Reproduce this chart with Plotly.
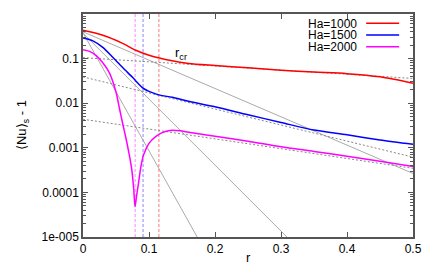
import plotly.graph_objects as go

# ---- data ----
r_red = [0, 0.03, 0.06, 0.08, 0.1, 0.135, 0.16, 0.2, 0.25, 0.3, 0.35, 0.4, 0.45, 0.5]
v_red = [0.43, 0.333, 0.22, 0.154, 0.119, 0.089, 0.078, 0.07, 0.062, 0.055, 0.050, 0.046, 0.039, 0.028]

r_blue = [0, 0.015, 0.03, 0.045, 0.06, 0.075, 0.08, 0.085, 0.09, 0.095, 0.1, 0.11, 0.12, 0.135,
          0.16, 0.2, 0.25, 0.3, 0.35, 0.4, 0.45, 0.5]
v_blue = [0.29, 0.25, 0.178, 0.107, 0.063, 0.038, 0.0316, 0.0263, 0.0224, 0.02, 0.0184, 0.0162,
          0.0148, 0.0136, 0.011, 0.0083, 0.0055, 0.0037, 0.0025, 0.00195, 0.0015, 0.0012]

r_mag = [0, 0.01, 0.02, 0.03, 0.04, 0.05, 0.055, 0.06, 0.065, 0.07, 0.074, 0.077, 0.0788,
         0.081, 0.084, 0.088, 0.092, 0.1, 0.11, 0.12, 0.132, 0.147, 0.16, 0.2, 0.25, 0.3, 0.35,
         0.4, 0.45, 0.5]
v_mag = [0.158, 0.145, 0.117, 0.081, 0.048, 0.0178, 0.0079, 0.00355, 0.00166, 0.00071, 0.000316,
         0.000112, 0.000048, 0.000079, 0.000158, 0.000398, 0.000708, 0.00126, 0.00178, 0.00219,
         0.00245, 0.0024, 0.00224, 0.00182, 0.00141, 0.00105, 0.00083, 0.00065, 0.0005, 0.00038]

# fitted straight lines (endpoints)
fitA_r, fitA_v = [0, 0.5], [0.398, 0.000266]
fitB_r, fitB_v = [0, 0.309], [0.372, 1e-5]
fitC_r, fitC_v = [0, 0.173], [0.38, 1e-5]
asym1_r, asym1_v = [0, 0.5], [0.105, 0.0359]
asym2_r, asym2_v = [0, 0.5], [0.0389, 0.000617]
asym3_r, asym3_v = [0, 0.5], [0.00437, 0.000347]

rcr = [0.079, 0.091, 0.115]
rcr_colors = ["#ff66ff", "#6666ff", "#ff5555"]

legend_names = ["Ha=1000", "Ha=1500", "Ha=2000"]
colors = ["#ff0000", "#0000ff", "#ff00ff"]

y_tickvals = [1, 0.1, 0.01, 0.001, 0.0001, 0.00001]
y_ticktext = ["1", "0.1", "0.01", "0.001", "0.0001", "1e-005"]
x_tickvals = [0, 0.1, 0.2, 0.3, 0.4, 0.5]
x_ticktext = ["0", "0.1", "0.2", "0.3", "0.4", "0.5"]

fig = go.Figure()

# vertical r_cr lines
for xv, c in zip(rcr, rcr_colors):
    fig.add_trace(go.Scatter(x=[xv, xv], y=[1e-5, 1], mode="lines",
                             line=dict(color=c, width=0.8, dash="3px,2px"), showlegend=False))

# gray solid fit lines
for rr, vv in [(fitA_r, fitA_v), (fitB_r, fitB_v), (fitC_r, fitC_v)]:
    fig.add_trace(go.Scatter(x=rr, y=vv, mode="lines",
                             line=dict(color="#a0a0a0", width=0.9), showlegend=False))
# gray dotted asymptotes
for rr, vv in [(asym1_r, asym1_v), (asym2_r, asym2_v), (asym3_r, asym3_v)]:
    fig.add_trace(go.Scatter(x=rr, y=vv, mode="lines",
                             line=dict(color="#888888", width=1, dash="2px,2px"), showlegend=False))

for rr, vv, c in [(r_red, v_red, colors[0]), (r_blue, v_blue, colors[1]), (r_mag, v_mag, colors[2])]:
    fig.add_trace(go.Scatter(x=rr, y=vv, mode="lines",
                             line=dict(color=c, width=1.5, shape="spline", smoothing=0.8),
                             showlegend=False))

font = dict(family="Liberation Sans, Arial, sans-serif", size=12, color="#000")

# the page body adds an 8px offset; the figure is sized to fill the rest of the window
fig.update_layout(
    width=426, height=265,
    margin=dict(l=75, r=21, t=6, b=36, autoexpand=False),
    paper_bgcolor="white", plot_bgcolor="white",
    font=font,
    xaxis=dict(range=[0, 0.5], tickvals=x_tickvals, ticktext=x_ticktext, automargin=False,
               ticks="inside", ticklen=5, tickcolor="#555", showgrid=False, zeroline=False,
               showline=True, linecolor="#555", linewidth=1.5, mirror="allticks"),
    yaxis=dict(type="log", range=[-5, 0], tickvals=y_tickvals, ticktext=y_ticktext, automargin=False,
               ticks="inside", ticklen=5, tickcolor="#555", showgrid=False, zeroline=False,
               showline=True, linecolor="#555", linewidth=1.5, mirror="allticks",
               minor=dict(tickvals=[m * 10 ** e for e in range(-5, 0) for m in range(2, 10)],
                          ticks="inside", ticklen=3, tickcolor="#555", showgrid=False)),
)

# manual legend (text left, sample right, gnuplot style)
leg_y = [0.958, 0.906, 0.853]
for name, c, yy in zip(legend_names, colors, leg_y):
    fig.add_annotation(x=0.836, y=yy, xref="paper", yref="paper", text=name, showarrow=False,
                       xanchor="right", yanchor="middle", height=11, font=font)
    fig.add_shape(type="line", xref="paper", yref="paper", x0=0.858, x1=0.958, y0=yy, y1=yy,
                  line=dict(color=c, width=1.5))

fig.add_annotation(x=0.273, y=0.87, xref="paper", yref="paper", text="r<sub>cr</sub>",
                   showarrow=False, font=dict(family=font["family"], size=13, color="#000"))
fig.add_annotation(x=-0.215, y=0.5, xref="paper", yref="paper", text="⟨Nu⟩<sub>s</sub> - 1",
                   textangle=-90, showarrow=False, font=dict(family=font["family"], size=13, color="#000"))
fig.add_annotation(x=0.5, y=-0.135, xref="paper", yref="paper", text="r",
                   showarrow=False, font=dict(family=font["family"], size=13, color="#000"))

fig.write_html("out.html")
